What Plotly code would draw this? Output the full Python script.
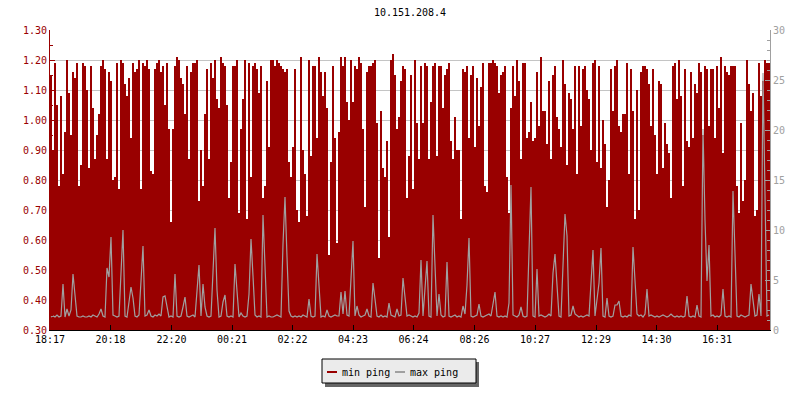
import pandas as pd
import plotly.graph_objects as go

TITLE = "10.151.208.4"
START = "2024-05-01 18:17"
STEP_MIN = 4
SPAN_MIN = 1440

tick_times = ["2024-05-01 18:17", "2024-05-01 20:18", "2024-05-01 22:20",
              "2024-05-02 00:21", "2024-05-02 02:22", "2024-05-02 04:23",
              "2024-05-02 06:24", "2024-05-02 08:26", "2024-05-02 10:27",
              "2024-05-02 12:29", "2024-05-02 14:30", "2024-05-02 16:31"]
tick_labels = ["18:17", "20:18", "22:20", "00:21", "02:22", "04:23",
               "06:24", "08:26", "10:27", "12:29", "14:30", "16:31"]

min_ping = [
    1.15, 0.90, 1.19, 1.05, 0.78, 1.08, 0.82, 0.96, 1.20, 1.09,
    0.95, 1.16, 1.14, 1.19, 0.78, 0.85, 1.19, 1.18, 1.10, 0.84,
    1.18, 1.04, 0.87, 0.95, 1.02, 1.18, 1.20, 1.17, 0.87, 1.16,
    1.13, 0.80, 0.81, 1.19, 0.77, 1.20, 1.19, 1.12, 1.08, 1.14,
    0.94, 1.19, 1.16, 1.17, 1.20, 0.77, 1.19, 1.18, 1.20, 1.17,
    0.83, 0.82, 1.17, 1.19, 1.20, 1.16, 1.18, 1.05, 1.19, 0.97,
    0.66, 0.97, 1.18, 1.21, 1.20, 1.14, 1.12, 1.02, 1.18, 0.87,
    1.16, 1.19, 1.19, 1.20, 0.73, 0.90, 0.78, 1.02, 1.17, 0.87,
    1.19, 1.14, 1.20, 1.07, 1.04, 1.21, 1.19, 1.18, 1.05, 0.74,
    0.86, 1.18, 1.18, 1.20, 0.69, 0.97, 1.07, 1.20, 0.67, 1.19,
    0.81, 1.18, 1.19, 1.17, 1.09, 1.18, 0.74, 0.78, 1.13, 0.91,
    1.20, 1.20, 1.18, 1.20, 1.19, 1.18, 1.17, 1.16, 1.17, 0.86,
    0.81, 0.91, 1.17, 0.70, 0.66, 1.21, 0.90, 0.82, 0.68, 1.20,
    0.88, 1.18, 1.18, 0.94, 1.21, 1.16, 1.08, 1.16, 1.04, 0.55,
    0.86, 1.18, 0.94, 0.59, 0.96, 1.21, 1.18, 1.21, 1.06, 1.00,
    1.20, 1.06, 1.18, 1.17, 1.21, 1.19, 0.97, 0.71, 1.16, 1.18,
    1.18, 1.19, 1.20, 0.99, 0.54, 1.03, 0.84, 0.81, 0.93, 0.61,
    1.20, 1.22, 1.15, 0.97, 1.01, 1.13, 1.18, 1.17, 0.74, 0.88,
    1.15, 0.77, 1.20, 0.99, 0.87, 1.18, 0.99, 1.19, 1.18, 0.87,
    1.06, 1.18, 1.19, 0.88, 1.18, 1.18, 1.04, 1.15, 1.17, 1.19,
    0.93, 0.87, 1.01, 0.90, 0.90, 0.67, 1.17, 1.16, 1.18, 0.94,
    1.15, 1.18, 0.91, 1.14, 0.98, 1.11, 1.19, 0.78, 0.76, 1.19,
    1.19, 1.20, 1.19, 1.18, 1.09, 1.15, 1.16, 1.18, 0.81, 0.69,
    1.04, 1.18, 1.08, 1.20, 1.13, 0.87, 1.19, 1.19, 0.94, 0.96,
    1.06, 0.93, 0.94, 1.16, 0.98, 1.21, 1.03, 1.03, 0.92, 1.13,
    0.87, 1.15, 1.18, 1.01, 0.97, 0.91, 1.20, 1.12, 0.85, 1.09,
    1.07, 0.97, 1.18, 0.82, 1.18, 0.98, 1.17, 1.18, 1.10, 1.07,
    0.90, 1.19, 1.20, 0.86, 1.18, 0.84, 1.00, 0.92, 0.71, 0.80,
    1.17, 1.03, 1.18, 1.20, 0.98, 0.96, 1.02, 1.02, 1.19, 0.82,
    1.17, 1.03, 0.67, 1.10, 0.70, 1.16, 1.18, 1.18, 1.17, 1.12,
    0.98, 1.17, 0.95, 0.82, 1.13, 1.12, 0.84, 0.99, 0.92, 0.89,
    0.74, 1.18, 1.19, 1.07, 1.20, 1.08, 0.78, 1.17, 0.93, 0.91,
    1.16, 0.94, 1.12, 1.09, 1.19, 1.16, 0.95, 1.18, 1.17, 0.98,
    1.17, 1.17, 0.94, 1.18, 1.04, 1.21, 0.89, 1.18, 1.16, 1.15,
    1.18, 1.18, 1.18, 0.78, 0.69, 0.99, 0.73, 0.80, 1.20, 1.12,
    1.03, 1.09, 0.68, 0.70, 1.19, 1.08, 1.13, 1.20, 1.19, 1.19,
]

max_ping = [
    1.3, 1.4, 1.3, 1.5, 1.3, 1.4, 4.6, 1.3, 2.1, 1.4,
    2.0, 5.6, 3.5, 1.4, 1.3, 1.3, 1.4, 1.3, 1.3, 1.4,
    1.3, 1.5, 1.4, 1.3, 1.6, 2.1, 1.4, 1.3, 6.2, 5.3,
    9.3, 1.5, 1.4, 1.3, 1.4, 5.8, 10.0, 1.4, 1.3, 2.8,
    4.3, 3.2, 1.4, 1.3, 1.5, 4.9, 8.4, 1.4, 1.5, 2.0,
    1.4, 1.3, 1.5, 1.4, 1.6, 1.4, 3.3, 3.4, 2.4, 1.3,
    1.4, 1.3, 5.6, 1.4, 1.3, 1.4, 2.3, 3.3, 1.4, 1.3,
    1.4, 1.5, 1.3, 4.0, 6.5, 1.4, 4.6, 2.3, 1.4, 1.3,
    1.4, 5.8, 10.2, 4.0, 1.3, 1.4, 2.8, 3.5, 1.4, 1.3,
    1.4, 1.3, 6.6, 3.9, 1.3, 1.7, 1.4, 1.3, 1.4, 3.6,
    9.1, 5.4, 1.5, 1.3, 1.4, 1.3, 11.5, 6.4, 1.3, 1.4,
    1.3, 1.3, 1.4, 1.5, 1.4, 1.3, 8.6, 13.3, 7.3, 1.9,
    1.4, 1.3, 1.4, 1.3, 1.4, 1.3, 1.5, 1.4, 1.3, 3.1,
    1.4, 1.3, 1.4, 7.6, 4.6, 1.3, 1.4, 1.3, 2.0, 1.4,
    1.3, 1.4, 1.5, 1.4, 1.4, 3.8, 1.6, 3.9, 1.5, 1.4,
    5.1, 8.9, 1.4, 2.4, 1.5, 1.3, 1.4, 1.5, 2.1, 1.4,
    1.3, 4.7, 3.1, 1.4, 1.3, 1.5, 1.3, 1.4, 1.3, 2.7,
    1.5, 1.4, 1.3, 2.1, 1.4, 1.5, 5.2, 3.3, 1.4, 1.5,
    1.4, 1.3, 1.4, 1.3, 1.7, 7.0, 1.4, 4.4, 6.9, 1.4,
    1.3, 11.5, 6.4, 1.4, 3.6, 1.5, 1.3, 1.4, 6.8, 1.4,
    1.3, 1.4, 1.5, 1.3, 1.4, 1.3, 2.4, 1.6, 4.5, 9.2,
    1.4, 1.3, 1.4, 1.5, 2.6, 1.4, 1.3, 1.4, 1.5, 1.6,
    1.4, 2.8, 3.8, 1.4, 1.3, 1.4, 1.3, 1.4, 1.3, 2.7,
    14.5, 1.5, 1.4, 1.3, 1.5, 2.3, 1.4, 1.3, 1.4, 7.8,
    14.3, 1.4, 1.3, 6.1, 1.4, 1.5, 1.4, 1.3, 1.4, 1.6,
    1.4, 5.7, 7.6, 4.5, 1.4, 1.3, 6.5, 11.6, 9.4, 1.4,
    1.5, 2.4, 1.6, 1.4, 1.3, 1.4, 1.3, 1.4, 1.5, 1.4,
    4.6, 8.0, 1.4, 3.0, 4.7, 8.2, 1.4, 1.3, 3.2, 1.4,
    1.3, 1.4, 2.5, 2.5, 2.9, 1.4, 1.3, 1.4, 1.3, 1.5,
    1.4, 8.3, 4.8, 1.6, 1.4, 1.5, 1.3, 1.6, 4.1, 1.4,
    1.5, 1.4, 1.3, 1.4, 1.3, 1.4, 1.5, 1.4, 1.3, 1.4,
    1.6, 1.4, 1.3, 1.4, 1.3, 1.4, 1.3, 1.4, 3.4, 1.4,
    1.3, 1.4, 1.3, 2.5, 1.4, 1.3, 20.1, 11.0, 4.9, 8.5,
    1.4, 1.5, 1.3, 1.4, 1.3, 1.5, 4.1, 1.4, 1.3, 1.4,
    1.3, 13.9, 7.6, 1.4, 1.3, 1.5, 1.4, 1.3, 1.4, 1.5,
    4.6, 3.1, 1.4, 1.5, 3.6, 1.4, 25.7, 13.5, 1.4, 1.5,
]

RED = "#990000"
GREY = "#a0a0a0"
FONT = "DejaVu Sans Mono"

start = pd.Timestamp(START)
end = start + pd.Timedelta(minutes=SPAN_MIN)
n = len(min_ping)
step_starts = [start + pd.Timedelta(minutes=STEP_MIN * i) for i in range(n)]
centers = [t + pd.Timedelta(minutes=STEP_MIN / 2) for t in step_starts]

fig = go.Figure()
fig.add_trace(go.Scatter(
    x=step_starts + [end], y=min_ping + [min_ping[-1]],
    mode="lines", line=dict(shape="hv", width=0, color=RED),
    fill="tozeroy", fillcolor=RED, name="min ping", showlegend=False,
    hoverinfo="skip"))
fig.add_trace(go.Scatter(
    x=centers, y=max_ping, yaxis="y2",
    mode="lines", line=dict(shape="linear", width=1.2, color=GREY),
    name="max ping", showlegend=False))

# plot area in pixels: x 50..770, y 30..330
def px(x):
    return (x - 50) / 720.0

def py(y):
    return (330 - y) / 300.0

shapes = [
    dict(type="rect", xref="paper", yref="paper", x0=px(325), x1=px(479),
         y0=py(387), y1=py(362), fillcolor="#666666", line=dict(width=0)),
    dict(type="rect", xref="paper", yref="paper", x0=px(322), x1=px(476),
         y0=py(383), y1=py(359), fillcolor="#ebebeb",
         line=dict(width=1, color="black")),
    dict(type="line", xref="paper", yref="paper", x0=px(327), x1=px(337),
         y0=py(372), y1=py(372), line=dict(width=2, color=RED)),
    dict(type="line", xref="paper", yref="paper", x0=px(395), x1=px(405),
         y0=py(372), y1=py(372), line=dict(width=2, color=GREY)),
]
annotations = [
    dict(text="min ping", xref="paper", yref="paper", x=px(340), y=py(372),
         xanchor="left", yanchor="middle", showarrow=False,
         font=dict(family=FONT, size=10, color="black")),
    dict(text="max ping", xref="paper", yref="paper", x=px(408), y=py(372),
         xanchor="left", yanchor="middle", showarrow=False,
         font=dict(family=FONT, size=10, color="black")),
]

fig.update_layout(
    width=800, height=400,
    margin=dict(l=50, r=30, t=30, b=70),
    paper_bgcolor="white", plot_bgcolor="white",
    showlegend=False,
    title=dict(text=TITLE, x=0.5125, xanchor="center", y=1 - 12 / 400,
               yanchor="middle", yref="container",
               font=dict(family=FONT, size=10, color="black")),
    font=dict(family=FONT, size=10),
    xaxis=dict(type="date", range=[start, end], tickvals=tick_times,
               ticktext=tick_labels, showgrid=False, zeroline=False,
               showline=True, linecolor="black", linewidth=1,
               ticks="inside", ticklen=5, tickcolor="black",
               tickfont=dict(family=FONT, size=10, color="black")),
    yaxis=dict(range=[0.3, 1.3], tick0=0.3, dtick=0.1, tickformat=".2f",
               showgrid=True, gridcolor="#c4c4c4", gridwidth=1,
               zeroline=False, showline=True, linecolor=RED, linewidth=1,
               ticks="inside", ticklen=5, tickcolor=RED,
               tickfont=dict(family=FONT, size=10, color=RED),
               minor=dict(dtick=0.05, tick0=0.3, ticks="inside", ticklen=3,
                          tickcolor=RED, showgrid=False)),
    yaxis2=dict(range=[0, 30], tick0=0, dtick=5, overlaying="y", side="right",
                showgrid=False, zeroline=False, showline=True,
                linecolor="#a0a0a0", linewidth=1,
                ticks="inside", ticklen=5, tickcolor="#a0a0a0",
                tickfont=dict(family=FONT, size=10, color="#a0a0a0"),
                minor=dict(dtick=1, tick0=0, ticks="inside", ticklen=3,
                           tickcolor="#a0a0a0", showgrid=False)),
    shapes=shapes, annotations=annotations,
)

fig.write_html("out.html", config={"displayModeBar": False},
               post_script="document.body.style.margin='0';")
